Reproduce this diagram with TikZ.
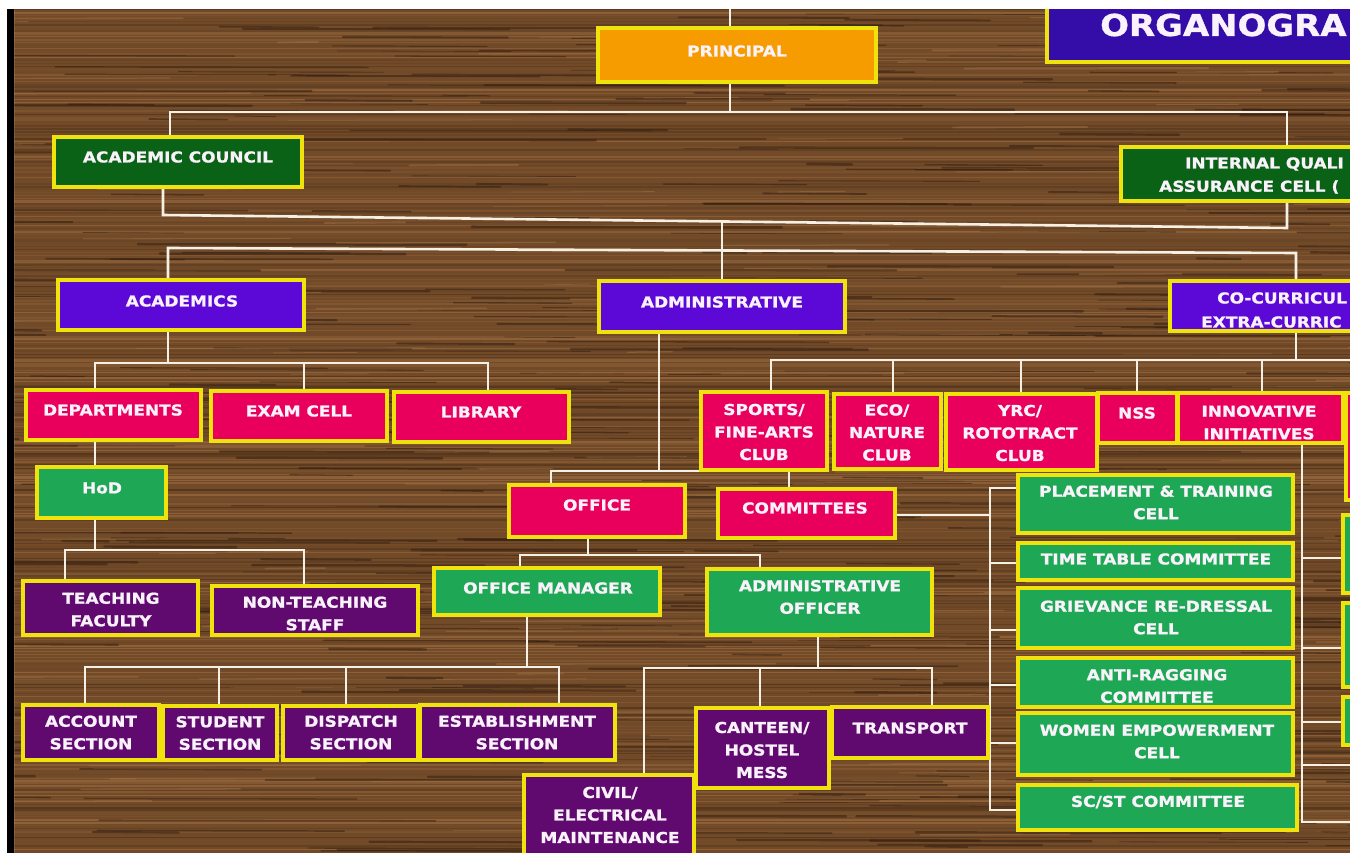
\documentclass[tikz,border=0pt]{standalone}
\usepackage{fontspec}
\newfontfamily\boxfont{DejaVu Sans Bold}[FakeStretch=1.13,FakeBold=1.2]
\usetikzlibrary{calc}
\pgfdeclarelayer{wood}
\pgfdeclarelayer{lines}
\pgfsetlayers{wood,lines,main}
\definecolor{orangec}{RGB}{246,156,0}
\definecolor{dkgreen}{RGB}{10,98,22}
\definecolor{purp}{RGB}{92,8,214}
\definecolor{indig}{RGB}{52,12,168}
\definecolor{pinkc}{RGB}{232,0,92}
\definecolor{greenc}{RGB}{30,168,86}
\definecolor{dpurp}{RGB}{96,10,112}
\definecolor{bordc}{RGB}{240,226,12}
\definecolor{linec}{RGB}{246,240,228}
\definecolor{txtc}{RGB}{250,242,250}
\definecolor{woodbase}{RGB}{114,74,40}
\definecolor{wdark}{RGB}{70,44,22}
\definecolor{wlight}{RGB}{160,112,68}
\definecolor{wdeep}{RGB}{48,28,14}
\newcommand{\mybox}[6]{\node[box,fill=#6,minimum width={(#4-#2)*1pt},minimum height={(#5-#3)*1pt}] (#1) at ({(#2+#4)/2},{(#3+#5)/2}) {};}
\newcommand{\mytext}[4]{\node[txt] (#1) at (#2,#3) {#4};}
\newcommand{\mytextw}[4]{\node[txt,anchor=west] (#1) at (#2,#3) {#4};}
\begin{document}
\begin{tikzpicture}[x=1pt,y=-1pt,
  box/.style={draw=bordc,line width=3.2pt,inner sep=0pt,outer sep=0pt,rectangle},
  conn/.style={draw=linec,line width=2.6pt},
  txt/.style={text=txtc,font=\boxfont\fontsize{15}{22.5}\selectfont,align=center,inner sep=0pt}]
\useasboundingbox (0,0) rectangle (1361,853);
\begin{pgfonlayer}{wood}
\fill[woodbase] (0,0) rectangle (1361,853);
\pgfmathsetseed{11}
\foreach \i in {0,...,283}{
  \pgfmathsetmacro\yy{9+3*\i+rnd}
  \pgfmathtruncatemacro\pc{100*rnd}
  \pgfmathsetmacro\lw{0.6+1.8*rnd}
  \draw[line width=\lw pt,color=wdark!\pc!wlight,opacity=0.6] (14,\yy) -- (1350,\yy);
}
\foreach \i in {1,...,420}{
  \pgfmathsetmacro\yy{9+844*rnd}
  \pgfmathsetmacro\xx{-100+1450*rnd}
  \pgfmathsetmacro\ll{40+300*rnd}
  \pgfmathsetmacro\lw{0.6+2.0*rnd}
  \draw[line width=\lw pt,color=wdeep,opacity=0.5,line cap=round] (\xx,\yy) -- ++(\ll,0.6);
}
\foreach \i in {1,...,160}{
  \pgfmathsetmacro\yy{9+844*rnd}
  \pgfmathsetmacro\xx{-100+1450*rnd}
  \pgfmathsetmacro\ll{40+260*rnd}
  \pgfmathsetmacro\lw{0.6+1.4*rnd}
  \draw[line width=\lw pt,color=wlight,opacity=0.5,line cap=round] (\xx,\yy) -- ++(\ll,-0.5);
}
\end{pgfonlayer}

% boxes
\mybox{org}{1047}{2}{1420}{62}{indig}
\node[txt,anchor=west,font=\boxfont\fontsize{30}{30}\selectfont] (orgt) at (1100,25) {ORGANOGRA};
\mybox{pri}{598}{28}{876}{82}{orangec} \mytext{prit}{737}{51}{PRINCIPAL}
\mybox{ac}{54}{137}{302}{187}{dkgreen} \mytext{act}{178}{157}{ACADEMIC COUNCIL}
\mybox{iqac}{1121}{147}{1420}{201}{dkgreen}
\mytextw{iqt1}{1185}{164}{INTERNAL QUALI}
\mytextw{iqt2}{1159}{187}{ASSURANCE CELL (}
\mybox{acad}{58}{280}{304}{330}{purp} \mytext{acadt}{182}{301}{ACADEMICS}
\mybox{adm}{599}{281}{845}{332}{purp} \mytext{admt}{722}{302}{ADMINISTRATIVE}
\mybox{cocur}{1170}{281}{1420}{331}{purp}
\mytextw{cct1}{1217}{298}{CO-CURRICUL}
\mytextw{cct2}{1201}{322}{EXTRA-CURRIC}
\mybox{dep}{26}{390}{201}{440}{pinkc} \mytext{dept}{113}{410}{DEPARTMENTS}
\mybox{exam}{211}{391}{387}{441}{pinkc} \mytext{examt}{299}{411}{EXAM CELL}
\mybox{lib}{394}{392}{569}{442}{pinkc} \mytext{libt}{481}{412}{LIBRARY}
\mybox{hod}{37}{467}{166}{518}{greenc} \mytext{hodt}{102}{488}{HoD}
\mybox{tf}{23}{581}{198}{635}{dpurp} \mytext{tft}{111}{609.5}{TEACHING\\FACULTY}
\mybox{nts}{212}{586}{418}{635}{dpurp} \mytext{ntst}{315}{613.5}{NON-TEACHING\\STAFF}
\mybox{acc}{23}{705}{159}{760}{dpurp} \mytext{acct}{91}{732.5}{ACCOUNT\\SECTION}
\mybox{stu}{163}{706}{277}{760}{dpurp} \mytext{stut}{220}{733}{STUDENT\\SECTION}
\mybox{dis}{283}{706}{418}{760}{dpurp} \mytext{dist}{351}{732.5}{DISPATCH\\SECTION}
\mybox{est}{420}{705}{615}{760}{dpurp} \mytext{estt}{517}{732.5}{ESTABLISHMENT\\SECTION}
\mybox{off}{509}{485}{685}{537}{pinkc} \mytext{offt}{597}{505}{OFFICE}
\mybox{com}{718}{489}{895}{538}{pinkc} \mytext{comt}{805}{508}{COMMITTEES}
\mybox{om}{434}{568}{660}{615}{greenc} \mytext{omt}{548}{588}{OFFICE MANAGER}
\mybox{ao}{707}{569}{932}{635}{greenc} \mytext{aot}{820}{597}{ADMINISTRATIVE\\OFFICER}
\mybox{civ}{524}{775}{694}{870}{dpurp} \mytext{civt}{610}{815}{CIVIL/\\ELECTRICAL\\MAINTENANCE}
\mybox{can}{696}{708}{829}{788}{dpurp} \mytext{cant}{762}{750}{CANTEEN/\\HOSTEL\\MESS}
\mybox{tra}{832}{707}{988}{758}{dpurp} \mytext{trat}{910}{728}{TRANSPORT}
\mybox{spo}{701}{392}{827}{470}{pinkc} \mytext{spot}{764}{432}{SPORTS/\\FINE-ARTS\\CLUB}
\mybox{eco}{834}{394}{941}{469}{pinkc} \mytext{ecot}{887}{432.5}{ECO/\\NATURE\\CLUB}
\mybox{yrc}{946}{394}{1097}{470}{pinkc} \mytext{yrct}{1020}{433}{YRC/\\ROTOTRACT\\CLUB}
\mybox{nss}{1098}{393}{1177}{443}{pinkc} \mytext{nsst}{1137}{413}{NSS}
\mybox{inn}{1178}{393}{1343}{443}{pinkc} \mytext{innt}{1259}{422.5}{INNOVATIVE\\INITIATIVES}
\mybox{rp}{1346}{393}{1420}{500}{pinkc}
\mybox{pla}{1018}{475}{1293}{533}{greenc} \mytext{plat}{1156}{502.5}{PLACEMENT \& TRAINING\\CELL}
\mybox{tt}{1018}{543}{1293}{580}{greenc} \mytext{ttt}{1156}{559}{TIME TABLE COMMITTEE}
\mybox{gri}{1018}{588}{1293}{648}{greenc} \mytext{grit}{1156}{617.5}{GRIEVANCE RE-DRESSAL\\CELL}
\mybox{ar}{1018}{658}{1293}{707}{greenc} \mytext{art}{1157}{686}{ANTI-RAGGING\\COMMITTEE}
\mybox{wem}{1018}{713}{1293}{775}{greenc} \mytext{wemt}{1157}{741.5}{WOMEN EMPOWERMENT\\CELL}
\mybox{sc}{1018}{785}{1297}{830}{greenc} \mytext{sct}{1158}{802}{SC/ST COMMITTEE}
\mybox{g1}{1343}{515}{1420}{593}{greenc}
\mybox{g2}{1343}{603}{1420}{687}{greenc}
\mybox{g3}{1343}{697}{1420}{745}{greenc}

% connectors
\begin{pgfonlayer}{lines}
\coordinate (ptop) at (730,0);
\draw[conn] (pri.north -| ptop) -- (ptop);
\coordinate (j0) at (730,112); \coordinate (jac) at (170,112); \coordinate (jiq) at (1287,112);
\draw[conn] (pri.south -| j0) -- (j0);
\draw[conn] (ac.north -| jac) -- (jac) -- (jiq) -- (iqac.north -| jiq);
\coordinate (k1) at (163,215); \coordinate (k2) at (1287,228); \coordinate (k3) at (722,221.5);
\draw[conn] (ac.south -| k1) -- (k1) -- (k2) -- (iqac.south -| k2);
\coordinate (m1) at (168,248); \coordinate (m2) at (722,250.5); \coordinate (m3) at (1296,253);
\draw[conn] (k3) -- (m2);
\draw[conn] (acad.north -| m1) -- (m1) -- (m3) -- (cocur.north -| m3);
\draw[conn] (m2) -- (adm.north -| m2);
% academics
\coordinate (n0) at (168,363); \coordinate (n1) at (95,363); \coordinate (n2) at (304,363); \coordinate (n3) at (488,363);
\draw[conn] (acad.south -| n0) -- (n0);
\draw[conn] (dep.north -| n1) -- (n1) -- (n3) -- (lib.north -| n3);
\draw[conn] (n2) -- (exam.north -| n2);
\coordinate (h0) at (95,455);
\draw[conn] (dep.south -| h0) -- (hod.north -| h0);
\coordinate (h1) at (95,550); \coordinate (h2) at (65,550); \coordinate (h3) at (304,550);
\draw[conn] (hod.south -| h1) -- (h1);
\draw[conn] (tf.north -| h2) -- (h2) -- (h3) -- (nts.north -| h3);
% administrative
\coordinate (a0) at (659,471); \coordinate (a1) at (551,471); \coordinate (a2) at (789,471);
\draw[conn] (adm.south -| a0) -- (a0);
\draw[conn] (off.north -| a1) -- (a1) -- (a2) -- (com.north -| a2);
\coordinate (o0) at (588,555); \coordinate (o1) at (520,555); \coordinate (o2) at (760,555);
\draw[conn] (off.south -| o0) -- (o0);
\draw[conn] (om.north -| o1) -- (o1) -- (o2) -- (ao.north -| o2);
\coordinate (q0) at (527,667); \coordinate (q1) at (85,667); \coordinate (q2) at (219,667);
\coordinate (q3) at (346,667); \coordinate (q4) at (559,667);
\draw[conn] (om.south -| q0) -- (q0);
\draw[conn] (acc.north -| q1) -- (q1) -- (q4) -- (est.north -| q4);
\draw[conn] (q2) -- (stu.north -| q2);
\draw[conn] (q3) -- (dis.north -| q3);
\coordinate (r0) at (818,668); \coordinate (r1) at (644,668); \coordinate (r2) at (760,668); \coordinate (r3) at (932,668);
\draw[conn] (ao.south -| r0) -- (r0);
\draw[conn] (civ.north -| r1) -- (r1) -- (r3) -- (tra.north -| r3);
\draw[conn] (r2) -- (can.north -| r2);
% committees
\coordinate (cy) at (990,515);
\coordinate (c1) at (990,488); \coordinate (c2) at (990,563); \coordinate (c3) at (990,630);
\coordinate (c4) at (990,685); \coordinate (c5) at (990,743); \coordinate (c6) at (990,810);
\draw[conn] (com.east |- cy) -- (cy);
\draw[conn] (pla.west |- c1) -- (c1) -- (c6) -- (sc.west |- c6);
\foreach \c/\b in {c2/tt,c3/gri,c4/ar,c5/wem} \draw[conn] (\c) -- (\b.west |- \c);
% clubs
\coordinate (s0) at (1296,360); \coordinate (s1) at (771,360); \coordinate (s2) at (893,360);
\coordinate (s3) at (1021,360); \coordinate (s4) at (1137,360); \coordinate (s5) at (1262,360);
\coordinate (s6) at (1400,360);
\draw[conn] (cocur.south -| s0) -- (s0);
\draw[conn] (spo.north -| s1) -- (s1) -- (s6);
\foreach \c/\b in {s2/eco,s3/yrc,s4/nss,s5/inn} \draw[conn] (\c) -- (\b.north -| \c);
% innovative branch
\coordinate (v0) at (1302,822); \coordinate (v1) at (1302,558); \coordinate (v2) at (1302,648);
\coordinate (v3) at (1302,722); \coordinate (v4) at (1302,765);
\coordinate (e4) at (1400,765); \coordinate (e5) at (1400,822);
\draw[conn] (inn.south -| v0) -- (v0) -- (e5);
\draw[conn] (v1) -- (g1.west |- v1);
\draw[conn] (v2) -- (g2.west |- v2);
\draw[conn] (v3) -- (g3.west |- v3);
\draw[conn] (v4) -- (e4);
\end{pgfonlayer}

% frame
\fill[white,even odd rule] (-20,-20) rectangle (1381,873) (14,9) rectangle (1350,853);
\fill[black] (7,9) rectangle (14,853);
\end{tikzpicture}
\end{document}
